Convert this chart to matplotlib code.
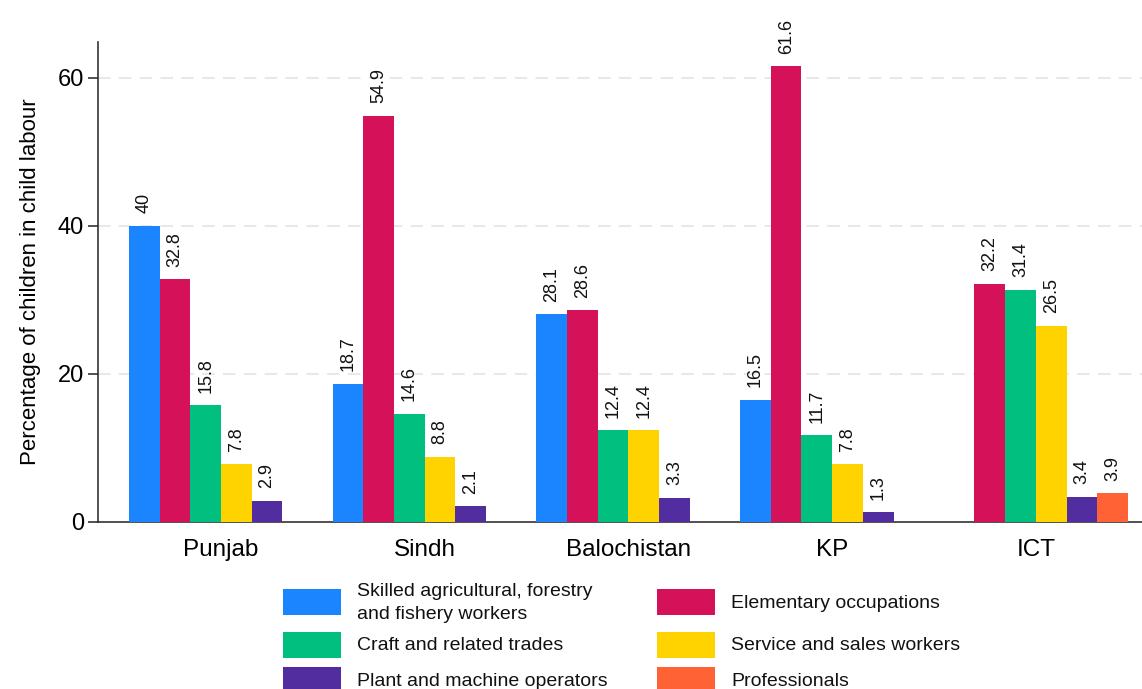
import numpy as np
import matplotlib
matplotlib.use("Agg")
import matplotlib.pyplot as plt
from matplotlib.patches import Rectangle

plt.rcParams['font.family'] = ['Liberation Sans', 'DejaVu Sans']

regions = ["Punjab", "Sindh", "Balochistan", "KP", "ICT"]
series_names = [
    "Skilled agricultural, forestry\nand fishery workers",
    "Elementary occupations",
    "Craft and related trades",
    "Service and sales workers",
    "Plant and machine operators",
    "Professionals",
]
skilled_agri = [40.0, 18.7, 28.1, 16.5, np.nan]
elementary = [32.8, 54.9, 28.6, 61.6, 32.2]
craft = [15.8, 14.6, 12.4, 11.7, 31.4]
service = [7.8, 8.8, 12.4, 7.8, 26.5]
plant = [2.9, 2.1, 3.3, 1.3, 3.4]
professionals = [np.nan, np.nan, np.nan, np.nan, 3.9]
series_values = [skilled_agri, elementary, craft, service, plant, professionals]
colors = ["#1A85FF", "#D41159", "#00BF7F", "#FFD300", "#512DA0", "#FF6235"]
yticks = [0, 20, 40, 60]

W, H = 1142, 689
fig = plt.figure(figsize=(W / 100, H / 100), dpi=100)
ax = fig.add_axes([98 / W, 1 - 522 / H, (W - 98) / W, (522 - 42) / H])

G = 6.64
centers = np.arange(len(regions)) * G
n = len(series_values)
for j, (vals, col) in enumerate(zip(series_values, colors)):
    xs = centers + (j - (n - 1) / 2)
    vals = np.array(vals, dtype=float)
    mask = ~np.isnan(vals)
    ax.bar(xs[mask], vals[mask], width=1.0, color=col, linewidth=0, zorder=3)
    for x, v in zip(xs[mask], vals[mask]):
        ax.annotate(f"{v:g}", (x, v), xytext=(0, 9), textcoords="offset points",
                    rotation=90, ha="center", va="bottom", fontsize=13, color="#111111")

ax.set_xlim(-4.01, 4 * G + 3.46)
ax.set_ylim(0, 64.86)
ax.set_xticks(centers)
ax.set_xticklabels(regions, fontsize=17.5)
ax.tick_params(axis="x", length=0, pad=12)
ax.set_yticks(yticks)
ax.set_yticklabels([str(t) for t in yticks], fontsize=17)
ax.tick_params(axis="y", length=7.2, width=1.2, color="#333333", pad=3)
ax.set_ylabel("Percentage of children in child labour", fontsize=16, labelpad=12)

for s in ["top", "right"]:
    ax.spines[s].set_visible(False)
for s in ["left", "bottom"]:
    ax.spines[s].set_color("#333333")
    ax.spines[s].set_linewidth(1.2)

for t in yticks[1:]:
    ax.axhline(t, color="#e8e8e8", linewidth=1.5, linestyle=(0, (6, 4)), zorder=1)

# legend (manual, 2 columns)
col_x = [283, 657]
text_x = [357, 731]
row_top = [589, 632, 667]
pw, ph = 58, 26
for i, (name, col) in enumerate(zip(series_names, colors)):
    r, c = i // 2, i % 2
    fig.add_artist(Rectangle((col_x[c] / W, 1 - (row_top[r] + ph) / H), pw / W, ph / H,
                             transform=fig.transFigure, facecolor=col, edgecolor="none"))
    fig.text(text_x[c] / W, 1 - (row_top[r] + ph / 2 + 1) / H, name, fontsize=14,
             ha="left", va="center", linespacing=1.4, color="#111111")

fig.savefig("out.png", dpi=100)
